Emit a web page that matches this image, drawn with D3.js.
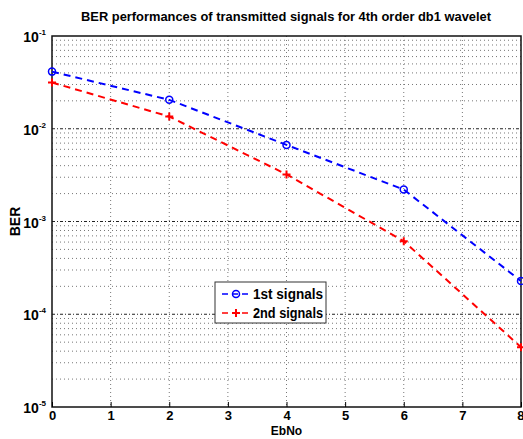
<!DOCTYPE html>
<html>
<head>
<meta charset="utf-8">
<script src="https://cdn.jsdelivr.net/npm/d3@7"></script>
<style>
  body { margin: 0; background: #fff; }
  text { font-family: Arial, 'Liberation Sans', sans-serif; font-weight: bold; }
</style>
</head>
<body>
<svg id="chart"></svg>
<script>
const ebno = [0, 2, 4, 6, 8]
const ber1 = [0.0413, 0.0205, 0.0067, 0.00221, 0.000228]
const ber2 = [0.0315, 0.01355, 0.00322, 0.000614, 0.0000442]
const xTicks = [0, 1, 2, 3, 4, 5, 6, 7, 8]
const yExps = [-1, -2, -3, -4, -5]
const seriesNames = ['1st signals', '2nd signals']

const W = 523, H = 439
const margin = { top: 36, left: 52, right: 2, bottom: 32 }
const width = W - margin.left - margin.right
const height = H - margin.top - margin.bottom

const svgRoot = d3.select('#chart').attr('width', W).attr('height', H)
const svg = svgRoot.append('g').attr('transform', `translate(${margin.left},${margin.top})`)

const xScale = d3.scaleLinear().domain([0, 8]).range([0, width])
const yScale = d3.scaleLog().domain([1e-5, 1e-1]).range([height, 0])

// grid
const minor = []
for (let e = -5; e < -1; e++) for (let m = 2; m <= 9; m++) minor.push(m * Math.pow(10, e))
svg.append('g').selectAll('line').data(minor).join('line')
  .attr('x1', 0).attr('x2', width)
  .attr('y1', d => yScale(d)).attr('y2', d => yScale(d))
  .attr('stroke', '#777').attr('stroke-width', 1).attr('stroke-dasharray', '1,3')
svg.append('g').selectAll('line').data(yExps.slice(1, 4)).join('line')
  .attr('x1', 0).attr('x2', width)
  .attr('y1', d => yScale(Math.pow(10, d))).attr('y2', d => yScale(Math.pow(10, d)))
  .attr('stroke', '#222').attr('stroke-width', 1).attr('stroke-dasharray', '3,2,1,2')
svg.append('g').selectAll('line').data(xTicks.slice(1, -1)).join('line')
  .attr('x1', d => xScale(d)).attr('x2', d => xScale(d))
  .attr('y1', 0).attr('y2', height)
  .attr('stroke', '#777').attr('stroke-width', 1).attr('stroke-dasharray', '1,3')

// frame
svg.append('rect').attr('width', width).attr('height', height)
  .attr('fill', 'none').attr('stroke', '#111').attr('stroke-width', 1.5)

// x axis
const xAxis = svg.append('g').attr('transform', `translate(0,${height})`)
  .call(d3.axisBottom(xScale).tickValues(xTicks).tickFormat(d3.format('d')).tickSizeInner(-5).tickSizeOuter(0).tickPadding(4))
xAxis.select('.domain').remove()
xAxis.selectAll('text').attr('font-size', 13).attr('fill', '#000')
  .attr('text-anchor', d => d === 8 ? 'end' : 'middle')
  .attr('dx', d => d === 8 ? 3 : 0)

// y axis with superscript labels
const yLab = svg.append('g').selectAll('text').data(yExps).join('text')
  .attr('x', -6).attr('y', d => yScale(Math.pow(10, d)) + 6)
  .attr('text-anchor', 'end').attr('font-size', 14).attr('fill', '#000')
yLab.append('tspan').text('10')
yLab.append('tspan').attr('dy', -7).attr('font-size', 8).text(d => d)

// lines
const line = d3.line().x((d, i) => xScale(ebno[i])).y(d => yScale(d))
const series = [
  { name: seriesNames[0], values: ber1, color: '#0000ff', marker: 'circle' },
  { name: seriesNames[1], values: ber2, color: '#ff0000', marker: 'plus' }
]
series.forEach(s => {
  svg.append('path').datum(s.values).attr('d', line)
    .attr('fill', 'none').attr('stroke', s.color).attr('stroke-width', 2).attr('stroke-dasharray', '7,5')
  const g = svg.append('g')
  s.values.forEach((v, i) => drawMarker(g, xScale(ebno[i]), yScale(v), s))
})

function drawMarker(g, x, y, s) {
  if (s.marker === 'circle') {
    g.append('circle').attr('cx', x).attr('cy', y).attr('r', 3.5)
      .attr('fill', 'none').attr('stroke', s.color).attr('stroke-width', 1.5)
  } else {
    g.append('path').attr('d', `M${x - 4},${y}H${x + 4}M${x},${y - 4}V${y + 4}`)
      .attr('stroke', s.color).attr('stroke-width', 2)
  }
}

// legend
const legend = svgRoot.append('g').attr('transform', 'translate(215,282)')
legend.append('rect').attr('width', 111).attr('height', 41)
  .attr('fill', '#fff').attr('stroke', '#333').attr('stroke-width', 1)
series.forEach((s, i) => {
  const yy = 12 + i * 19
  legend.append('line').attr('x1', 7).attr('x2', 36).attr('y1', yy).attr('y2', yy)
    .attr('stroke', s.color).attr('stroke-width', 1.5).attr('stroke-dasharray', '6,4')
  drawMarker(legend, 21, yy, s)
  legend.append('text').attr('x', 38).attr('y', yy + 5).attr('font-size', 14)
    .attr('textLength', 70).attr('lengthAdjust', 'spacingAndGlyphs')
    .attr('fill', '#000').text(s.name)
})

// titles
svgRoot.append('text').attr('x', 286).attr('y', 21).attr('text-anchor', 'middle')
  .attr('font-size', 13).attr('fill', '#000')
  .attr('textLength', 410).attr('lengthAdjust', 'spacingAndGlyphs')
  .text('BER performances of transmitted signals for 4th order db1 wavelet')
svgRoot.append('text').attr('transform', `translate(20,${margin.top + height / 2}) rotate(-90)`)
  .attr('text-anchor', 'middle').attr('font-size', 14).attr('fill', '#000').text('BER')
svgRoot.append('text').attr('x', margin.left + width / 2).attr('y', 435).attr('text-anchor', 'middle')
  .attr('font-size', 12).attr('fill', '#000').text('EbNo')
</script>
</body>
</html>
